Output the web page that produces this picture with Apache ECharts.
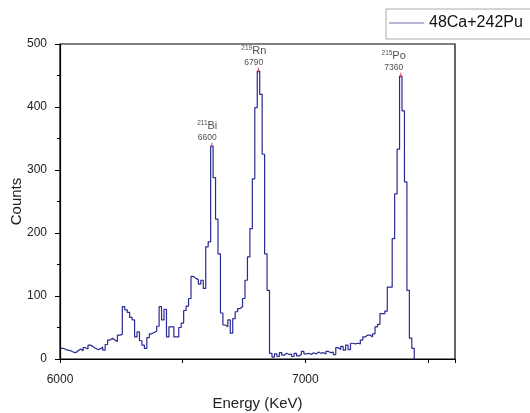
<!DOCTYPE html>
<html>
<head>
<meta charset="utf-8">
<script src="https://cdn.jsdelivr.net/npm/echarts@6/dist/echarts.min.js"></script>
<style>html,body{margin:0;padding:0;background:#fff;}#c{width:530px;height:413px;}</style>
</head>
<body>
<div id="c"></div>
<script>
// Histogram: bin left edges start at binStart, width binWidth (keV)
const binStart = 6004;
const binWidth = 10;
const counts = [
  17,15,14,13,11,10,13,16,13,18,
  16,22,20,17,15,16,19,14,23,30,
  33,30,28,38,39,83,78,74,66,62,
  35,43,29,22,17,34,40,42,44,52,
  83,62,79,35,51,51,35,35,50,57,
  77,84,96,131,128,126,119,125,112,178,
  186,338,288,222,167,73,54,51,62,41,
  64,75,80,83,96,125,162,207,286,399,
  457,420,325,167,109,9,3,8,4,10,
  6,9,7,8,4,9,5,7,12,8,
  9,7,10,8,11,9,10,8,12,10,
  11,7,18,15,20,14,22,15,25,24,
  25,24,30,35,38,38,35,40,51,55,
  72,72,76,114,114,191,262,333,449,394,
  281,109,33,17,0
];
const seriesName = '48Ca+242Pu';
// Peak annotations
const peakIsotopes = ['211', '219', '215'];
const peakElements = ['Bi', 'Rn', 'Po'];
const peakLabels = [6600, 6790, 7360];      // labelled energies
const peakTopEnergy = [6619, 6809, 7389];   // where the peak top bin is drawn
const peakTopCounts = [338, 457, 449];
const yTicks = [0, 100, 200, 300, 400, 500];
const xTickLabels = [6000, 7000];

const lineData = counts.map((c, i) => [binStart + i * binWidth, c]);
const labelData = peakLabels.map((e, i) => ({
  value: [e, peakTopCounts[i]],
  iso: peakIsotopes[i], el: peakElements[i]
}));
const markData = peakTopEnergy.map((e, i) => [e, peakTopCounts[i]]);

const font = '"Liberation Sans", Arial, sans-serif';
const chart = echarts.init(document.getElementById('c'), null, {renderer: 'canvas'});
chart.setOption({
  animation: false,
  backgroundColor: '#fff',
  textStyle: {fontFamily: font},
  grid: {left: 60, right: 75, top: 44, bottom: 54, show: true, borderColor: '#000', borderWidth: 1.2,
         containLabel: false, outerBoundsMode: 'none'},
  legend: {
    data: [{name: seriesName, icon: 'rect'}],
    left: 386, top: 9,
    padding: [6, 12, 8, 3],
    borderColor: '#aaa', borderWidth: 1,
    itemWidth: 35, itemHeight: 1.2, itemGap: 5,
    itemStyle: {color: '#6e6eb0', borderWidth: 0},
    textStyle: {fontSize: 16, color: '#111', fontFamily: font, lineHeight: 16}
  },
  xAxis: {
    type: 'value', min: 6000, max: 7610, interval: 500,
    name: 'Energy (KeV)', nameLocation: 'middle', nameGap: 37, nameMoveOverlap: false,
    nameTextStyle: {fontSize: 15, color: '#222', fontFamily: font},
    axisLine: {show: true, lineStyle: {color: '#000', width: 1.2}},
    axisTick: {show: true, inside: false, length: 4, lineStyle: {color: '#000'}},
    axisLabel: {fontSize: 12, color: '#222', margin: 15, fontFamily: font,
      formatter: v => (xTickLabels.indexOf(v) >= 0 ? String(v) : '')},
    splitLine: {show: false}
  },
  yAxis: {
    type: 'value', min: 0, max: 500, interval: 100,
    name: 'Counts', nameLocation: 'middle', nameGap: 36, nameMoveOverlap: false,
    nameTextStyle: {fontSize: 15, color: '#222', fontFamily: font},
    axisLine: {show: true, lineStyle: {color: '#000', width: 1.2}},
    axisTick: {show: true, inside: false, length: 5, lineStyle: {color: '#000'}},
    minorTick: {show: true, splitNumber: 2, length: 3, lineStyle: {color: '#000'}},
    axisLabel: {fontSize: 12, color: '#222', margin: 13, fontFamily: font,
      formatter: v => (yTicks.indexOf(v) >= 0 ? String(v) : '')},
    splitLine: {show: false}
  },
  series: [
    {
      name: seriesName, type: 'line', step: 'end', symbol: 'none',
      data: lineData,
      lineStyle: {color: '#2a2a94', width: 1.2},
      itemStyle: {color: '#2a2a94'},
      z: 3
    },
    {
      type: 'scatter', symbol: 'rect', symbolSize: [1.2, 5], symbolOffset: [0, -1],
      itemStyle: {color: '#e03a3a'},
      data: markData, silent: true, z: 4
    },
    {
      type: 'scatter', symbolSize: 0, data: labelData, silent: true, z: 5,
      label: {
        show: true, position: 'top', distance: 3,
        formatter: p => '{sup|' + p.data.iso + '}{el|' + p.data.el + '}\n{num|' + p.data.value[0] + '}',
        rich: {
          sup: {fontSize: 6.5, color: '#222', verticalAlign: 'top', lineHeight: 12, fontFamily: font},
          el: {fontSize: 11, color: '#222', lineHeight: 12, fontFamily: font},
          num: {fontSize: 8.5, color: '#222', lineHeight: 11, fontFamily: font, align: 'center'}
        },
        align: 'center'
      }
    }
  ]
});
</script>
</body>
</html>
